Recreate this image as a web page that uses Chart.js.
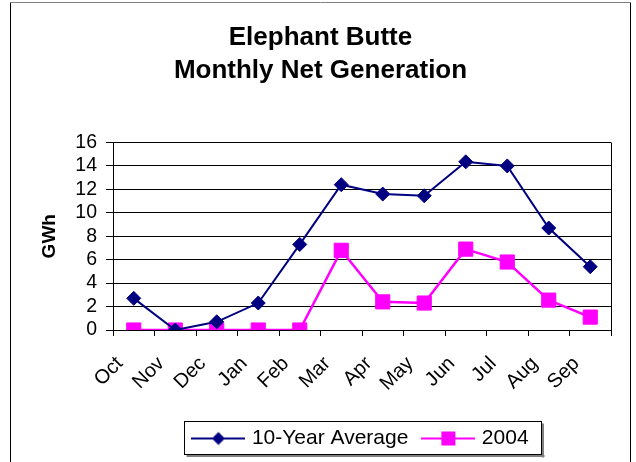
<!DOCTYPE html>
<html>
<head>
<meta charset="utf-8">
<script src="https://cdn.jsdelivr.net/npm/chart.js@4/dist/chart.umd.min.js"></script>
<style>
html,body{margin:0;padding:0;background:#fff;}
canvas{display:block;}
</style>
</head>
<body>
<canvas id="c" width="636" height="462"></canvas>
<script>
const categories = ['Oct','Nov','Dec','Jan','Feb','Mar','Apr','May','Jun','Jul','Aug','Sep'];
const tenYearAverage = [2.7, 0.0, 0.7, 2.3, 7.3, 12.4, 11.6, 11.45, 14.35, 14.0, 8.7, 5.4];
const year2004 = [0, 0, 0, 0, 0, 6.8, 2.4, 2.3, 6.9, 5.8, 2.55, 1.1];
const titleLines = ['Elephant Butte', 'Monthly Net Generation'];
const yTitle = 'GWh';

const FONT = "'Liberation Sans', Arial, sans-serif";
const NAVY = '#000080';
const MAGENTA = '#FF00FF';

function legendIcon(color, kind) {
  const c = document.createElement('canvas');
  c.width = 54; c.height = 20;
  const g = c.getContext('2d');
  g.strokeStyle = color; g.lineWidth = 2;
  g.beginPath(); g.moveTo(0, 10); g.lineTo(54, 10); g.stroke();
  g.fillStyle = color;
  g.beginPath();
  if (kind === 'diamond') {
    g.moveTo(27, 3.5); g.lineTo(33.5, 10); g.lineTo(27, 16.5); g.lineTo(20.5, 10); g.closePath();
  } else {
    g.rect(20, 3, 14, 14);
  }
  g.fill();
  return c;
}
const icons = [legendIcon(NAVY, 'diamond'), legendIcon(MAGENTA, 'square')];

const framePlugin = {
  id: 'frames',
  beforeDraw(chart) {
    const ctx = chart.ctx;
    ctx.save();
    ctx.fillStyle = '#fff';
    ctx.fillRect(0, 0, chart.width, chart.height);
    ctx.restore();
  },
  afterDraw(chart) {
    const ctx = chart.ctx;
    const a = chart.chartArea;
    ctx.save();
    ctx.lineWidth = 1;
    ctx.strokeStyle = '#000';
    ctx.beginPath();
    ctx.moveTo(10.5, 470); ctx.lineTo(10.5, 2.5);
    ctx.moveTo(630.5, 2.5); ctx.lineTo(630.5, 470);
    ctx.stroke();
    ctx.strokeStyle = '#808080';
    ctx.beginPath();
    ctx.moveTo(10.5, 2.5); ctx.lineTo(630.5, 2.5);
    ctx.stroke();
    ctx.strokeStyle = '#000';
    ctx.beginPath();
    ctx.moveTo(Math.round(a.right) + 0.5, a.top);
    ctx.lineTo(Math.round(a.right) + 0.5, a.bottom);
    ctx.stroke();
    const hb = chart.legend.legendHitBoxes;
    if (hb && hb.length) {
      let l = Infinity, t = Infinity, r = -Infinity, b = -Infinity;
      hb.forEach(h => { l = Math.min(l, h.left); t = Math.min(t, h.top); r = Math.max(r, h.left + h.width); b = Math.max(b, h.top + h.height); });
      const L = Math.round(l - 11) + 0.5, T = Math.round(t - 7) + 0.5, R = Math.round(r + 12) + 0.5, B = Math.round(b + 5) + 0.5;
      ctx.fillStyle = '#808080';
      ctx.fillRect(R + 0.5, T + 2, 2, B - T + 1);
      ctx.fillRect(L + 2, B + 0.5, R - L + 1, 2);
      ctx.strokeStyle = '#000';
      ctx.strokeRect(L, T, R - L, B - T);
    }
    ctx.restore();
  }
};

new Chart(document.getElementById('c'), {
  type: 'line',
  data: {
    labels: categories,
    datasets: [
      {
        label: '10-Year Average',
        data: tenYearAverage,
        borderColor: NAVY,
        backgroundColor: NAVY,
        borderWidth: 2,
        pointStyle: 'rectRot',
        pointRadius: 7,
        pointBorderWidth: 1,
        pointBackgroundColor: NAVY,
        pointBorderColor: NAVY,
        tension: 0,
        fill: false
      },
      {
        label: '2004',
        data: year2004,
        borderColor: MAGENTA,
        backgroundColor: MAGENTA,
        borderWidth: 2.5,
        pointStyle: 'rect',
        pointRadius: 10,
        pointBorderWidth: 1,
        pointBackgroundColor: MAGENTA,
        pointBorderColor: MAGENTA,
        tension: 0,
        fill: false
      }
    ]
  },
  options: {
    responsive: false,
    animation: false,
    devicePixelRatio: 1,
    color: '#000',
    layout: { padding: { left: 30, right: 25, top: 0, bottom: 3 } },
    scales: {
      x: {
        type: 'category',
        offset: true,
        grid: { offset: true, drawOnChartArea: false, drawTicks: true, tickLength: 6, color: '#000', lineWidth: 1 },
        border: { color: '#000', width: 1 },
        ticks: {
          color: '#000',
          font: { family: FONT, size: 20 },
          maxRotation: 45, minRotation: 45,
          autoSkip: false,
          padding: 16,
          labelOffset: -14
        },
        afterFit(scale) { scale.height = 81; }
      },
      y: {
        min: 0, max: 16,
        grid: { color: '#000', lineWidth: 1, tickLength: 7, drawTicks: true },
        border: { color: '#000', width: 1 },
        ticks: { stepSize: 2, autoSkip: false, color: '#000', font: { family: FONT, size: 19.5 }, padding: 9 },
        title: { display: true, text: yTitle, color: '#000', font: { family: FONT, size: 19, weight: 'bold' }, padding: { top: 8, bottom: 0 } },
        afterFit(scale) { scale.width = 83; }
      }
    },
    plugins: {
      title: {
        display: true,
        text: titleLines,
        color: '#000',
        font: { family: FONT, size: 26, weight: 'bold', lineHeight: 1.24 },
        padding: { top: 22, bottom: 56 }
      },
      legend: {
        display: true,
        position: 'bottom',
        fullSize: false,
        labels: {
          color: '#000',
          font: { family: FONT, size: 21 },
          usePointStyle: true,
          pointStyleWidth: 46,
          padding: 17,
          generateLabels(chart) {
            return chart.data.datasets.map((ds, i) => ({
              text: ds.label,
              pointStyle: icons[i],
              fillStyle: ds.borderColor,
              strokeStyle: ds.borderColor,
              lineWidth: 0,
              hidden: false,
              datasetIndex: i,
              fontColor: '#000'
            }));
          }
        }
      },
      tooltip: { enabled: false }
    }
  },
  plugins: [framePlugin]
});
</script>
</body>
</html>
